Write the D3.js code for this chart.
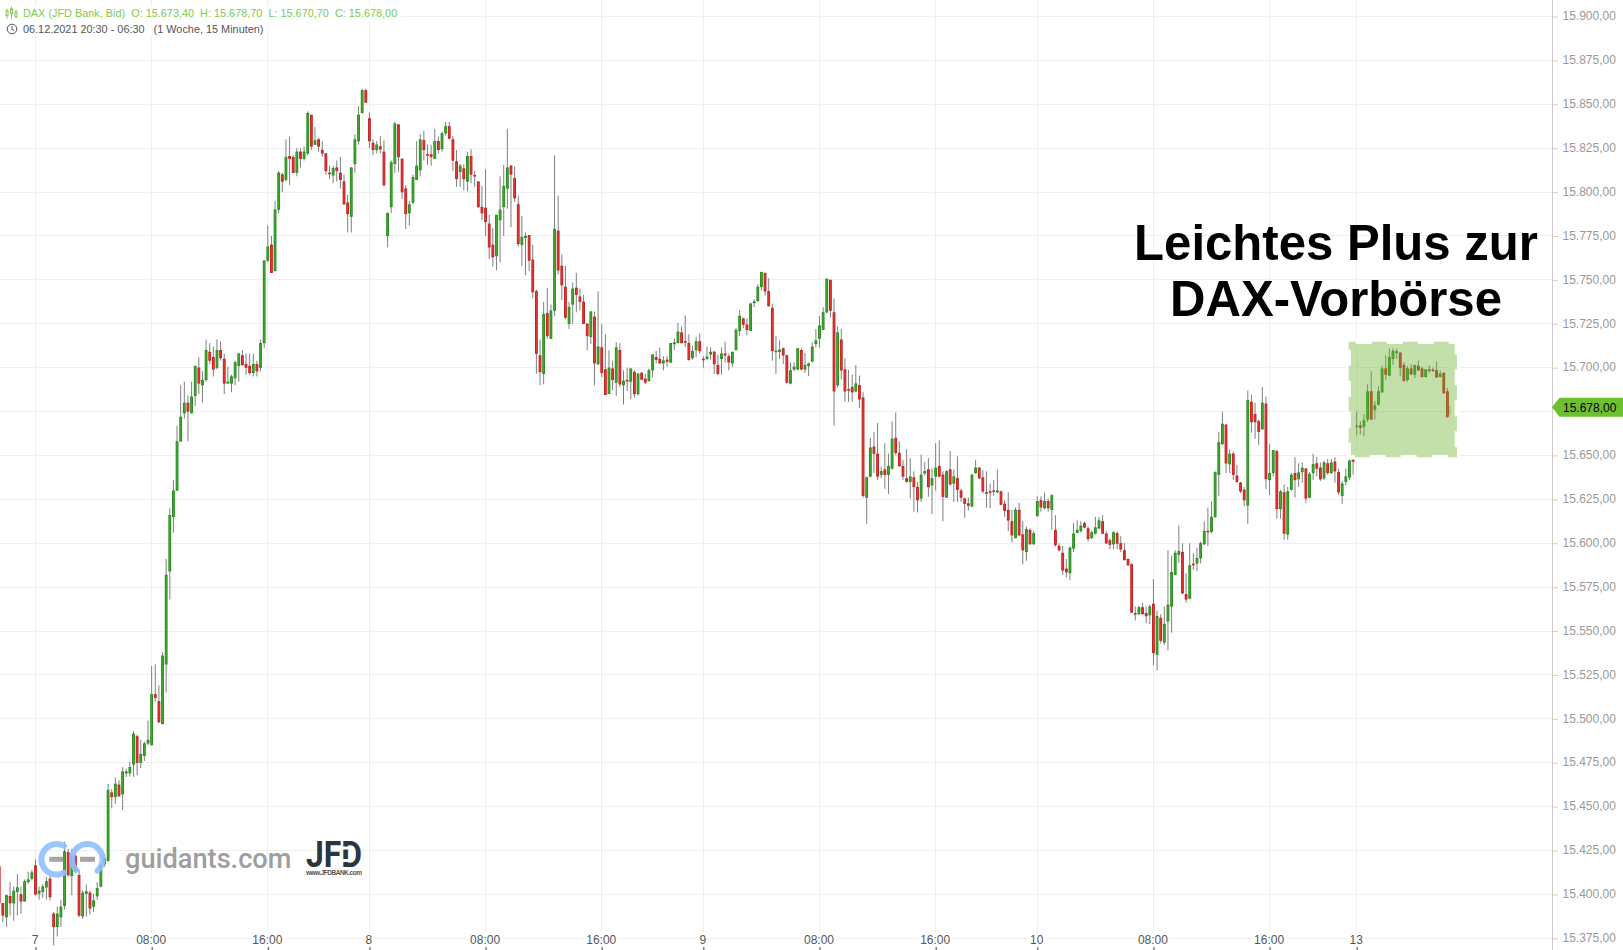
<!DOCTYPE html>
<html>
<head>
<meta charset="utf-8">
<title>DAX Vorbörse</title>
<script src="https://d3js.org/d3.v7.min.js"></script>
<style>
  html, body { margin: 0; padding: 0; background: #fff; }
  svg { display: block; }
  text { font-family: "Liberation Sans", Arial, sans-serif; }
  .axis-y text { fill: #999; font-size: 12px; }
  .axis-y .domain, .axis-y line { stroke: #ccc; }
  .axis-x text { fill: #555; font-size: 12px; }
  .axis-x .domain { display: none; }
  .axis-x line { stroke: #444; }
</style>
</head>
<body>
<div id="chart-area"></div>
<script>
// 15 minute candles, 06.12.2021 20:30 - 13.12.2021 06:30
var opens = [
  15416,15395,15387,15399,15395,15401.5,15400,15396,15407,15409,
  15416.5,15400.5,15401.5,15404,15409,15389,15381.5,15387,15393.5,15424,
  15410.5,15422,15411,15387.5,15400.4,15401,15393,15399,15404.5,15417,
  15419,15458,15455.5,15462.5,15457,15469,15469,15474,15490,15475,
  15479,15486,15485,15514,15510,15497,15531,15584,15615,15630,
  15658,15674,15680,15674,15684,15700,15690,15693,15709,15706,
  15700,15710,15705,15691,15691,15694,15701,15707,15702,15701,
  15697,15702,15700,15714,15761,15770,15755,15790,15810,15807,
  15820.5,15820,15811,15823,15819,15822,15844,15827,15830,15824,
  15822,15811,15809.5,15814,15811,15806,15794,15786,15816,15829,
  15845,15858,15842,15828,15824,15826,15823,15775,15791.5,15816,
  15838.5,15819,15802,15788,15794,15807,15812.5,15829.5,15821.5,15821.5,
  15819,15829,15824.5,15833.5,15837.5,15830,15817.5,15811.5,15813.5,15806,
  15820.5,15809.7,15806,15791.5,15791,15782,15770,15763.5,15784,15791.5,
  15802,15815,15808,15793,15770,15774,15775.5,15761.5,15743.5,15707,
  15696.5,15731,15716.5,15732.5,15778,15758,15746,15725,15736,15745.5,
  15740.5,15737.5,15725,15717.5,15729,15702,15711.5,15699,15685,15699.5,
  15691.5,15710,15690,15693,15692,15697.5,15685,15697,15693.7,15692.5,
  15698.5,15706,15705,15702.5,15704.5,15703,15713.4,15714,15720,15715,
  15714,15705.5,15710,15715,15705,15705,15707.5,15709,15701.5,15705,
  15708,15706.5,15702.5,15710,15721,15728,15724.5,15721,15736.8,15738,
  15746,15754,15743.5,15734,15709,15709,15711,15707,15691,15699,
  15699,15710,15699,15701,15703.5,15713.5,15716.5,15721.5,15731.5,15750,
  15731.5,15690,15716,15699,15687.7,15689,15686.5,15690,15683,15626,
  15638,15655,15651,15639,15642,15639,15642.5,15660,15651.5,15644,
  15637,15635,15637.5,15632,15625.5,15639.8,15642,15633,15638,15644,
  15639,15626,15642,15634,15637,15630,15625.5,15622.7,15621,15640,
  15643,15637.5,15629,15629.5,15630,15629,15629.5,15622.5,15619,15612.5,
  15603,15619,15605,15595,15607.5,15599.5,15615.5,15624.5,15620,15624,
  15619,15607.5,15598.5,15594.5,15585.5,15583,15597,15606,15607,15611.5,
  15608.5,15603,15605.5,15608.5,15612.5,15605.5,15601.7,15599.4,15605.7,15600,
  15596,15591,15588,15560.2,15559.5,15563.5,15560.2,15559,15565.5,15536.5,
  15557.5,15543.5,15555.5,15564,15582,15593.5,15595,15571,15568.5,15588.3,
  15588.5,15591.5,15599.5,15607,15606.5,15615,15639,15656.5,15667.5,15645,
  15651,15638.5,15634.5,15630.5,15621.5,15680.5,15673.5,15669.5,15665,15679.5,
  15636,15640,15652.5,15619.5,15629,15605,15630.5,15640,15636.5,15640.5,
  15642.5,15626,15640,15645.5,15643,15637,15645.5,15640,15646.5,15640.5,
  15627,15635,15637.5,15648,15666.5,15667,15666.5,15670.5,15686.5,15676,
  15679,15686,15699.5,15695.5,15705,15708.3,15708.5,15701.5,15693,15699.5,
  15696,15701,15699.5,15694.7,15698.9,15698.9,15698.5,15694.7,15697,15686.5,15673.4
];
var highs = [
  15421,15395,15400,15407,15404.5,15411.5,15404.5,15408.5,15413,15414,
  15420,15404.5,15406,15410,15410.5,15390,15393,15397,15430,15426,
  15426,15426,15414,15402.5,15405.7,15402,15400.5,15407,15417.5,15423,
  15463,15460,15466.5,15465,15472.5,15471.6,15475.5,15493,15491,15488,
  15487,15499,15530,15531,15519,15538,15591,15620,15636,15667,
  15690,15692,15684,15692,15701,15706,15698,15716,15714,15712,
  15716,15715,15708,15700.5,15696,15704,15708.5,15710,15708,15708,
  15708,15704,15716,15761,15781,15775,15795,15812,15811,15830,
  15831.5,15821,15825,15825,15826,15846,15844,15837,15831,15829,
  15822,15815,15815,15818,15820,15810,15798.5,15814,15833,15849,
  15859,15859,15845.5,15830,15829,15832,15829.5,15788.5,15818,15840,
  15838.5,15819,15804,15795,15810,15829,15833,15835,15827,15827,
  15836,15831.5,15834.5,15840,15840,15832,15824,15816,15816,15823,
  15824.4,15812,15806,15803.5,15813,15787,15779.5,15787,15809,15815.5,
  15836,15815.5,15814.5,15798,15786.5,15777,15775.5,15770,15744.5,15716,
  15737.5,15745.5,15736,15821,15798,15764.5,15758,15737.5,15748.5,15754,
  15745,15741.5,15725.5,15732,15732,15743.5,15725,15719,15710,15704,
  15714.5,15714,15698.5,15700,15699.5,15698.5,15697,15697.7,15696.5,15699.5,
  15707.5,15709.5,15711.5,15706.5,15706.5,15714,15716.7,15725.5,15723.5,15729.7,
  15719,15712.5,15717.5,15719.5,15706.5,15712,15711.5,15709.5,15707.5,15711.5,
  15714.8,15708,15709,15722.5,15733,15728.5,15728,15737,15739,15747.5,
  15754.5,15754,15751,15736.5,15718,15715.5,15711.5,15707.5,15703,15703,
  15711,15711,15708.5,15703,15714.5,15722,15729.5,15734.5,15751,15750,
  15739.5,15723.5,15722,15705.5,15698.7,15696,15701.5,15695.5,15686,15638,
  15660,15663.5,15668.5,15643.5,15657,15651,15669.5,15674.5,15658,15647.5,
  15653.5,15648.5,15641,15635,15650.5,15646.2,15648.5,15642.5,15657,15658.5,
  15641,15641.5,15652.5,15642,15649.5,15631,15626,15626,15639.5,15647.5,
  15643.5,15641.5,15641,15634,15636,15642,15630,15624.5,15629,15619,
  15620.3,15623,15612.5,15609.5,15608.5,15606.8,15626.7,15626.7,15629,15625.5,
  15628,15616,15600,15598.5,15591,15598,15611.5,15613,15612.5,15612.5,
  15609.5,15607.2,15615,15615,15616,15607,15602.8,15606.8,15606.8,15604,
  15600,15591.3,15588.6,15564,15564.4,15566,15564,15565,15579.5,15561.5,
  15559.5,15564,15596,15593,15596,15610,15600,15583,15600,15594.3,
  15597.5,15601,15612.5,15620.3,15624,15641,15663.5,15675,15668,15653.5,
  15652.3,15644.5,15635,15632,15687,15684.5,15680,15670.5,15689,15683.5,
  15656.5,15653,15653,15630.5,15633.5,15632,15640,15649,15645.5,15646,
  15643,15640.5,15651,15649,15646,15647,15648,15648,15649,15642.5,
  15635.5,15642.5,15648,15651,15675,15669.5,15673.5,15690.5,15698,15681,
  15689.5,15701,15707,15712,15713,15712,15709,15703,15700.8,15702,
  15701.5,15704,15700.4,15699,15701.3,15700,15703.5,15698.5,15697.5,15688.5,15678.7
];
var lows = [
  15394,15384,15381.5,15388,15385,15388,15389,15396,15406,15408,
  15399.5,15397,15398,15397,15396.5,15371,15376,15381.5,15391.5,15410,
  15399.5,15412,15387,15386,15387.3,15388.5,15390,15397,15404,15415.7,
  15419,15449,15451.5,15455.5,15448,15466.9,15467,15467,15467.8,15472,
  15476,15485,15485,15510,15498,15497,15515,15568,15606,15630,
  15658,15671,15658,15674,15678,15685,15680,15692,15702,15695,
  15699,15704,15685,15691,15686,15690,15692,15701,15696,15696,
  15695,15695,15698,15711,15760,15754,15755,15788,15800,15806,
  15804,15811,15809,15814,15818,15821,15824,15827,15823,15820,
  15810,15807.5,15805,15806,15802,15793,15777,15777,15811,15827,
  15845,15851,15825,15821,15822,15822,15803,15768.5,15788,15811,
  15811.5,15796,15779,15781,15793,15807,15809,15818,15815.5,15815,
  15819,15822,15823,15832,15830,15812,15803,15803,15801,15800.5,
  15805,15803,15791,15784,15775,15762,15757.5,15755.5,15760,15775,
  15790.5,15780,15794.5,15769,15758,15752.6,15755,15739.5,15696.5,15690,
  15690.5,15716.5,15716.5,15729.5,15753,15738.5,15727.6,15722,15725,15731.5,
  15732.5,15725,15710,15713.5,15690,15701.5,15694.5,15684.5,15685,15687,
  15684,15689,15679,15686.7,15682,15683,15684,15692.8,15690.7,15692,
  15694.5,15702.5,15702,15698.5,15700.7,15702.5,15710,15714,15714,15711.7,
  15704,15704.5,15706,15708,15700,15704.5,15704.5,15696.5,15695.6,15696,
  15703,15698.5,15700.5,15710,15718,15722.5,15718.5,15721,15734.5,15737.5,
  15744,15741,15735,15704,15696.4,15705,15702,15691,15690.5,15698,
  15698.5,15698.5,15697,15695.3,15703,15711.5,15711.5,15721.5,15731,15728.5,
  15667,15688.5,15693.5,15680.5,15680.5,15680.5,15686,15677,15626,15611,
  15637.5,15640,15636,15637,15631,15628,15642,15650,15643.5,15636,
  15634.5,15625.5,15618,15617.5,15623.5,15638.5,15626.5,15616.5,15630,15637.5,
  15612.5,15626,15633,15623.5,15623.5,15623.5,15614.5,15618.5,15620.5,15639.5,
  15636.5,15628.5,15620.3,15620,15627,15628.5,15621.8,15615,15607,15600.5,
  15602.8,15604,15588,15590,15599,15599,15615,15618,15619.3,15618,
  15607.5,15598,15595.3,15582,15580.5,15579,15595,15605.5,15606,15608.5,
  15601,15602.3,15605,15608,15605,15599.6,15596.6,15596.6,15596.6,15595,
  15590,15587,15560.5,15556,15559.5,15559.3,15554.5,15554,15530.5,15527.5,
  15543,15542,15539,15549,15582,15589,15571,15566,15568,15584.8,
  15584,15588.5,15599,15598.5,15605.7,15614.5,15627,15656,15640,15640,
  15636,15634.5,15628.5,15621,15611,15663,15659.5,15656,15664.5,15631,
  15627.5,15638,15614,15614,15602,15602,15630,15626,15632,15634.5,
  15623,15625.5,15636,15638,15635.5,15636,15639,15639.5,15634.5,15627.5,
  15622.5,15633,15636,15639,15661.5,15662,15661,15669,15670,15670.5,
  15678.5,15685.5,15693,15695,15701.5,15705,15695,15692,15692,15696,
  15694,15698,15694.5,15694.5,15697,15697.5,15694.3,15694.5,15685,15671.5,15670.7
];
var closes = [
  15395,15388,15399.5,15395,15402,15404,15396,15407.5,15408.5,15412.5,
  15400,15402,15404.5,15407.5,15398.5,15381.5,15389,15393,15424.5,15411,
  15422.5,15413,15388,15401,15401.7,15392,15396.5,15403.5,15416.5,15420.5,
  15459.5,15455.5,15463,15456,15470,15470,15472.5,15491.5,15475,15480,
  15486,15488,15514,15512,15498,15536,15582,15616,15630,15658,
  15672,15680,15675,15683.5,15701,15691,15693,15710,15704,15699,
  15710,15705.5,15691,15692,15695,15703,15708,15701.5,15700,15697,
  15702,15698,15714,15761,15769,15754,15790,15811,15806,15820,
  15819,15811,15823,15819,15823,15845,15826,15829.5,15826,15822,
  15812,15810.5,15813.6,15812,15807,15793,15787.5,15814,15830,15844,
  15858,15851,15829,15824,15827,15824.4,15804,15788,15817,15839,
  15820,15800,15787.5,15793,15808.5,15815,15830,15824,15821,15820,
  15829,15824,15833.5,15837.5,15830.5,15818,15807.5,15815,15807.4,15820.5,
  15810,15809,15791.5,15788,15783,15768.5,15763,15787,15790,15803.5,
  15814,15810,15796.5,15770.5,15774.5,15775,15761,15743,15708,15697.5,
  15730.5,15718,15732.5,15779,15755.5,15747,15728.5,15734.5,15745,15741.5,
  15737.5,15725,15718,15732,15702.5,15712,15697,15684.5,15700,15693,
  15711.5,15690.5,15692.5,15692.5,15699.5,15685,15696.5,15693.2,15691.5,15698.5,
  15707.5,15704.5,15702.5,15704,15703.5,15714,15714.4,15720.5,15714,15714.4,
  15704.5,15709.5,15715,15709.5,15704.5,15706.3,15709,15702,15696.5,15708,
  15707,15703,15709,15721.5,15729.5,15724.5,15721.5,15736.5,15737.7,15746,
  15754.5,15743.5,15735,15709.5,15709.6,15710.2,15707,15691.5,15698.5,15700.5,
  15711,15699,15701.5,15702.3,15712,15715.5,15724,15731.5,15750.5,15732.5,
  15686.5,15720,15698.5,15686.5,15687,15686,15691,15682,15627,15637.5,
  15654.5,15651,15638,15641,15639,15644,15659.5,15651.5,15644,15638,
  15635,15638,15632,15624.5,15639,15641,15632,15637,15643,15638,
  15626.5,15641,15633.5,15638,15630.5,15626,15622.5,15621.4,15639,15643,
  15637,15629.5,15628.6,15629,15629.4,15630,15622,15618.5,15613,15604.5,
  15619,15604.5,15596,15608,15599.5,15605.7,15624,15620.5,15624,15620,
  15627.3,15599,15596,15584.5,15583.5,15597.5,15605.5,15607.5,15610,15609,
  15602.5,15606.2,15609,15613,15605.5,15600,15599.2,15606.2,15599.8,15596.5,
  15590.5,15587.5,15560.5,15559.7,15563.5,15559.7,15558.5,15564,15537.5,15558.5,
  15544.5,15554,15565,15583.5,15594.5,15595.5,15571.5,15568,15587.5,15587.7,
  15591.5,15600,15607,15606.5,15615,15640.5,15657.5,15668,15645.5,15651,
  15639,15635,15629.5,15624.5,15681.5,15669,15669,15663.5,15680,15636.5,
  15640,15653,15619.5,15629.5,15605.5,15629.5,15639,15636,15640.3,15643,
  15625.5,15639.5,15645,15642.5,15636.5,15646,15640,15646,15641,15629,
  15634,15638,15647,15646.5,15667,15665.7,15670,15686.5,15670.5,15678.5,
  15686.5,15699.5,15696,15706,15709.5,15709.3,15700,15692.5,15699.5,15696.2,
  15701.5,15698.5,15694.7,15699,15698.5,15698.5,15694.5,15696.6,15685.5,15672,15678
];

// axis ticks
var priceTicks = d3.range(15375, 15901, 25);
var hiddenPriceLabel = 15675; // sits behind the price tag
var timeTickIndex = [10, 42, 74, 102, 134, 166, 194, 226, 258, 286, 318, 350, 374];
var timeTickLabels = ["7", "08:00", "16:00", "8", "08:00", "16:00", "9", "08:00", "16:00", "10", "08:00", "16:00", "13"];

var legendLine1 = "DAX (JFD Bank, Bid)  O: 15.673,40  H: 15.678,70  L: 15.670,70  C: 15.678,00";
var legendLine2 = "06.12.2021 20:30 - 06:30   (1 Woche, 15 Minuten)";
var headline = ["Leichtes Plus zur", "DAX-Vorbörse"];
var highlightRange = { first: 372.4, last: 401, top: 15713.5, bottom: 15650.2 };

var width = 1623, height = 950, axisX = 1552;

var svg = d3.select("#chart-area").append("svg")
  .attr("width", width)
  .attr("height", height);

// Scales
var x = d3.scaleLinear().domain([10, 374]).range([35.5, 1356.7]);
var y = d3.scaleLinear().domain([15375, 15850]).range([938.3, 104.3]);
var de = d3.formatLocale({ decimal: ",", thousands: ".", grouping: [3], currency: ["", ""] });
var priceFormat = de.format(",.2f");

function crisp(v) { return Math.floor(v) + 0.5; }

// Grid
var grid = svg.append("g").attr("stroke", "#efefef").attr("stroke-width", 1);
grid.selectAll("line.h").data(priceTicks).enter().append("line")
  .attr("class", "h")
  .attr("x1", 0).attr("x2", axisX)
  .attr("y1", function(d) { return crisp(y(d)); })
  .attr("y2", function(d) { return crisp(y(d)); });
grid.selectAll("line.v").data(timeTickIndex).enter().append("line")
  .attr("class", "v")
  .attr("y1", 0).attr("y2", 948)
  .attr("x1", function(d) { return crisp(x(d)); })
  .attr("x2", function(d) { return crisp(x(d)); });

// Candles
var candles = svg.append("g");
var candle = candles.selectAll("g").data(d3.range(opens.length)).enter().append("g");
candle.append("line")
  .attr("x1", function(i) { return x(i); })
  .attr("x2", function(i) { return x(i); })
  .attr("y1", function(i) { return y(highs[i]); })
  .attr("y2", function(i) { return y(lows[i]); })
  .attr("stroke", "#7f7f7f")
  .attr("stroke-width", 1);
candle.append("rect")
  .attr("x", function(i) { return x(i) - 0.9; })
  .attr("width", 1.8)
  .attr("y", function(i) { return y(Math.max(opens[i], closes[i])) + 0.4; })
  .attr("height", function(i) { return Math.max(0.5, Math.abs(y(opens[i]) - y(closes[i])) - 0.8); })
  .attr("fill", function(i) { return closes[i] >= opens[i] ? "#43b02c" : "#ea3a36"; })
  .attr("stroke", function(i) { return closes[i] >= opens[i] ? "#2a8c20" : "#c32222"; })
  .attr("stroke-width", 1);

// Highlight of the pre market
var hx0 = x(highlightRange.first), hx1 = x(highlightRange.last);
var hy0 = y(highlightRange.top), hy1 = y(highlightRange.bottom);
svg.append("rect")
  .attr("x", hx0).attr("y", hy0).attr("width", hx1 - hx0).attr("height", hy1 - hy0)
  .attr("fill", "none").attr("stroke", "#fff").attr("stroke-width", 9);
var highlight = svg.append("g").attr("opacity", 0.4);
highlight.append("rect")
  .attr("x", hx0).attr("y", hy0).attr("width", hx1 - hx0).attr("height", hy1 - hy0)
  .attr("fill", "#6ab22e")
  .attr("stroke", "#6ab22e")
  .attr("stroke-width", 4.5)
  .attr("stroke-dasharray", "15 16")
  .attr("stroke-dashoffset", 10);

// Y axis
var yAxis = d3.axisRight(y)
  .tickValues(priceTicks.filter(function(d) { return d !== hiddenPriceLabel; }))
  .tickFormat(priceFormat)
  .tickSize(5)
  .tickSizeOuter(0)
  .tickPadding(5);
svg.append("rect").attr("x", axisX).attr("y", 0).attr("width", width - axisX).attr("height", height).attr("fill", "#fff");
var yAxisGroup = svg.append("g")
  .attr("class", "axis-y")
  .attr("transform", "translate(" + (axisX + 0.5) + ",0)")
  .call(yAxis);
yAxisGroup.select(".domain").attr("d", "M0,0V" + height);
yAxisGroup.selectAll("text").attr("dy", "0.27em");

// X axis
var xAxis = d3.axisBottom(x)
  .tickValues(timeTickIndex)
  .tickFormat(function(d, i) { return timeTickLabels[i]; })
  .tickSize(3)
  .tickSizeOuter(0);
var xAxisGroup = svg.append("g")
  .attr("class", "axis-x")
  .attr("transform", "translate(0,947)")
  .call(xAxis);
xAxisGroup.selectAll("text").attr("y", -3).attr("x", -1).attr("dy", 0);
xAxisGroup.selectAll(".tick").each(function() {
  var t = d3.select(this), box = t.select("text").node().getBBox();
  t.insert("rect", "text")
    .attr("x", box.x - 2).attr("y", box.y).attr("width", box.width + 4).attr("height", box.height)
    .attr("fill", "#fff");
});

// Price tag
var tagY = y(closes[closes.length - 1]) + 1;
svg.append("path")
  .attr("d", "M" + axisX + "," + tagY + "L" + (axisX + 7.5) + "," + (tagY - 9.5) + "H" + width + "V" + (tagY + 9.5) + "H" + (axisX + 7.5) + "Z")
  .attr("fill", "#6cbf2f");
svg.append("text")
  .attr("x", axisX + 11).attr("y", tagY + 4.3)
  .attr("font-size", "12px").attr("fill", "#000")
  .text(priceFormat(closes[closes.length - 1]));

// Headline
svg.selectAll("text.headline").data(headline).enter().append("text")
  .attr("class", "headline")
  .attr("x", 1336)
  .attr("y", function(d, i) { return 259.5 + i * 56.5; })
  .attr("text-anchor", "middle")
  .attr("font-size", "49.1px")
  .attr("font-weight", "bold")
  .attr("fill", "#000")
  .text(function(d) { return d; });

// Legend
function legendText(str, yPos, color) {
  var bg = svg.append("rect").attr("fill", "#fff");
  var t = svg.append("text")
    .attr("x", 23).attr("y", yPos)
    .attr("font-size", "10.88px")
    .attr("fill", color)
    .style("white-space", "pre")
    .text(str);
  var b = t.node().getBBox();
  bg.attr("x", 0).attr("y", b.y - 1).attr("width", b.x + b.width + 4).attr("height", b.height + 2);
}
legendText(legendLine1, 17, "#7ccb4e");
legendText(legendLine2, 33, "#555");

var icon = svg.append("g").attr("stroke", "#7ccb4e").attr("fill", "none");
[7, 11.5, 16].forEach(function(cx, i) {
  var top = [11, 9, 12][i];
  icon.append("line").attr("x1", cx).attr("x2", cx).attr("y1", top - 2.5).attr("y2", 18.5);
  icon.append("rect").attr("x", cx - 1).attr("y", top).attr("width", 2).attr("height", 4.5).attr("fill", "#fff");
});
var clock = svg.append("g").attr("stroke", "#555").attr("fill", "none");
clock.append("circle").attr("cx", 12).attr("cy", 29).attr("r", 4.8);
clock.append("path").attr("d", "M12,26V29.3L14.2,30.6");

// Watermark
var ring = d3.arc().innerRadius(12.3).outerRadius(18.3).cornerRadius(3);
function deg(a) { return a * Math.PI / 180; }
var mark = svg.append("g").attr("transform", "translate(0,859.3)");
mark.append("path")
  .attr("transform", "translate(56.7,0)")
  .attr("d", ring({ startAngle: deg(140), endAngle: deg(400) }))
  .attr("fill", "#8fbfff").attr("opacity", 0.9);
mark.append("path")
  .attr("transform", "translate(87.3,0)")
  .attr("d", ring({ startAngle: deg(215), endAngle: deg(510) }))
  .attr("fill", "#8fbfff").attr("opacity", 0.9);
mark.append("rect").attr("x", 49.3).attr("y", -2.5).attr("width", 14).attr("height", 5).attr("fill", "#a0a0a0").attr("opacity", 0.95);
mark.append("rect").attr("x", 80).attr("y", -2.5).attr("width", 15).attr("height", 5).attr("fill", "#a0a0a0").attr("opacity", 0.95);

svg.append("text")
  .attr("x", 125).attr("y", 868)
  .attr("font-size", "27.2px")
  .attr("font-weight", 500)
  .attr("fill", "#9e9e9e")
  .style("font-family", "Roboto")
  .text("guidants.com");
svg.append("text")
  .attr("x", 306).attr("y", 867)
  .attr("font-size", "37px")
  .attr("font-weight", "bold")
  .attr("fill", "#2a3640")
  .attr("textLength", 56)
  .attr("lengthAdjust", "spacingAndGlyphs")
  .style("font-family", "Roboto")
  .text("JFD");
// the D of the logo has a split stem
[846.5, 859].forEach(function(top) {
  svg.append("rect").attr("x", 342).attr("y", top).attr("width", 7).attr("height", 3).attr("fill", "#fff");
});
svg.append("text")
  .attr("x", 306).attr("y", 875)
  .attr("font-size", "6.5px")
  .attr("font-weight", "bold")
  .attr("fill", "#555")
  .attr("textLength", 56)
  .text("www.JFDBANK.com");
</script>
</body>
</html>
